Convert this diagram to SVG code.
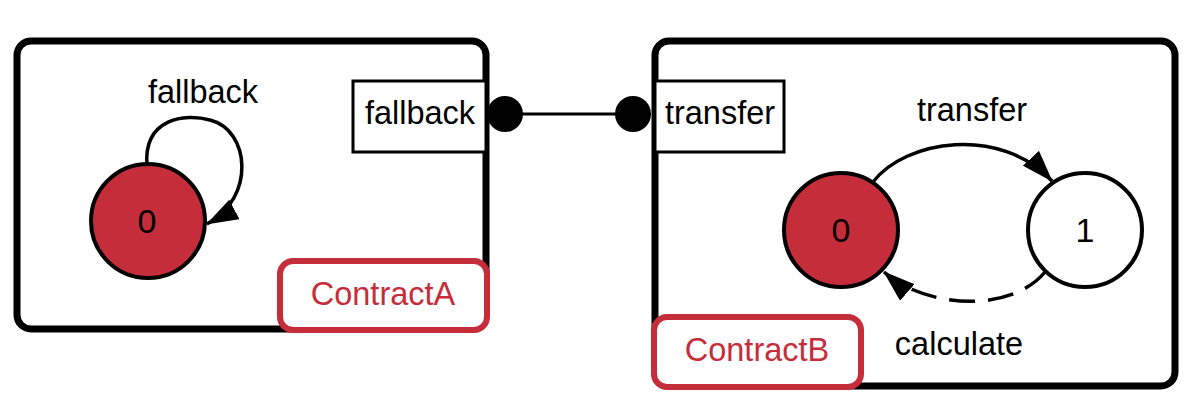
<svg xmlns="http://www.w3.org/2000/svg" width="1200" height="407" viewBox="0 0 1200 407">
<style>
.container{fill:#fff;stroke:#000;stroke-width:7}
.port{fill:#fff;stroke:#000;stroke-width:3}
.state{stroke:#000;stroke-width:4}
.red{fill:#c62d3b}
.white{fill:#fff}
.label{font-family:"Liberation Sans",Arial,sans-serif;font-size:32.5px;fill:#000}
.num{font-family:"Liberation Sans",Arial,sans-serif;font-size:34px;fill:#000}
.tag{fill:#fff;stroke:#c62d3b;stroke-width:6}
.tagtext{font-family:"Liberation Sans",Arial,sans-serif;font-size:32.5px;fill:#c62d3b}
.edge{fill:none;stroke:#000;stroke-width:3.5}
.dash{stroke-dasharray:26 13}
</style>
<defs>
<marker id="arrow" viewBox="0 0 32 22" refX="31" refY="11" markerUnits="userSpaceOnUse" markerWidth="32" markerHeight="22" orient="auto">
<path d="M0,0 L32,11 L0,22 z" fill="#000"/>
</marker>
</defs>
<g id="ContractA">
<rect class="container" x="17" y="41" width="469" height="288" rx="14"/>
</g>
<g id="ContractB">
<rect class="container" x="655" y="41" width="520" height="345" rx="14"/>
</g>
<g id="portA">
<rect class="port" x="353" y="81" width="133" height="71"/>
<text class="label" x="420" y="124" text-anchor="middle">fallback</text>
</g>
<g id="portB">
<rect class="port" x="655" y="81" width="129" height="71"/>
<text class="label" x="720" y="124" text-anchor="middle">transfer</text>
</g>
<g id="connectors">
<line x1="505" y1="114" x2="633" y2="114" stroke="#000" stroke-width="3"/>
<circle cx="505" cy="114" r="18" fill="#000"/>
<circle cx="633" cy="114" r="18" fill="#000"/>
<path class="edge" d="M147,166 C143,118 185,113 210,120 C250,130 256,198 207,224" marker-end="url(#arrow)"/>
<path class="edge" d="M873,182 C905,140 1000,125 1052,181" marker-end="url(#arrow)"/>
<path class="edge dash" d="M1045,272 C1010,314 925,308 884,272" marker-end="url(#arrow)"/>
<text class="label" x="203" y="103" text-anchor="middle">fallback</text>
<text class="label" x="972" y="121" text-anchor="middle">transfer</text>
<text class="label" x="959" y="355" text-anchor="middle">calculate</text>
</g>
<g id="A0">
<circle class="state red" cx="148" cy="221" r="57"/>
<text class="num" x="147" y="233" text-anchor="middle">0</text>
</g>
<g id="B0">
<circle class="state red" cx="841" cy="230" r="57"/>
<text class="num" x="841" y="242" text-anchor="middle">0</text>
</g>
<g id="B1">
<circle class="state white" cx="1085" cy="230" r="57"/>
<text class="num" x="1085" y="242" text-anchor="middle">1</text>
</g>
<g id="tagA">
<rect class="tag" x="280" y="261" width="207" height="69" rx="13"/>
<text class="tagtext" x="383" y="305" text-anchor="middle">ContractA</text>
</g>
<g id="tagB">
<rect class="tag" x="654" y="317" width="207" height="70" rx="13"/>
<text class="tagtext" x="757" y="361" text-anchor="middle">ContractB</text>
</g>
</svg>
